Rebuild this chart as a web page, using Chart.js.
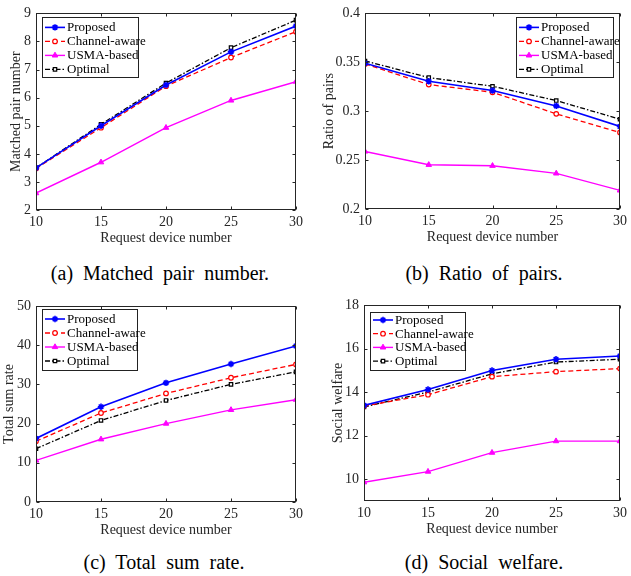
<!DOCTYPE html>
<html>
<head>
<meta charset="utf-8">
<script src="https://cdn.jsdelivr.net/npm/chart.js@4.4.1/dist/chart.umd.min.js"></script>
<style>
  html, body { margin:0; padding:0; background:#fff; }
  body { width:631px; height:576px; position:relative; overflow:hidden; font-family:"Liberation Serif", serif; }
  .panel { position:absolute; }
  .cap { position:absolute; font-family:"Liberation Serif", serif; font-size:20px; word-spacing:5px; color:#000; white-space:pre; transform:translate(-50%,-50%); }
</style>
</head>
<body>
<div class="panel" style="left:0;top:0;width:316px;height:250px"><canvas id="ca"></canvas></div>
<div class="panel" style="left:316px;top:0;width:315px;height:249px"><canvas id="cb"></canvas></div>
<div class="panel" style="left:0;top:290px;width:316px;height:252px"><canvas id="cc"></canvas></div>
<div class="panel" style="left:316px;top:290px;width:315px;height:251px"><canvas id="cd"></canvas></div>
<div class="cap" style="left:160px;top:273px">(a) Matched pair number.</div>
<div class="cap" style="left:484px;top:273px">(b) Ratio of pairs.</div>
<div class="cap" style="left:164px;top:562px">(c) Total sum rate.</div>
<div class="cap" style="left:484px;top:562px">(d) Social welfare.</div>
<script>
// ---- data ----
const categories = [10, 15, 20, 25, 30];
const seriesNames = ["Proposed", "Channel-aware", "USMA-based", "Optimal"];

const proposedPairs = [3.5, 5.0, 6.45, 7.63, 8.55];
const channelPairs  = [3.48, 4.93, 6.41, 7.43, 8.35];
const usmaPairs     = [2.6, 3.7, 4.93, 5.9, 6.57];
const optimalPairs  = [3.5, 5.05, 6.52, 7.78, 8.76];

const proposedRatio = [0.349, 0.3306, 0.3211, 0.3054, 0.2844];
const channelRatio  = [0.3483, 0.3272, 0.3194, 0.2973, 0.2782];
const usmaRatio     = [0.2588, 0.2452, 0.2442, 0.2364, 0.219];
const optimalRatio  = [0.3514, 0.3344, 0.3255, 0.3109, 0.2918];

const proposedRate = [16.2, 24.3, 30.4, 35.2, 39.8];
const channelRate  = [15.5, 22.7, 27.7, 31.7, 35.1];
const usmaRate     = [10.6, 16.0, 20.0, 23.5, 26.1];
const optimalRate  = [13.6, 20.8, 25.9, 30.0, 33.2];

const proposedWelfare = [13.39, 14.12, 14.99, 15.51, 15.66];
const channelWelfare  = [13.36, 13.88, 14.71, 14.94, 15.08];
const usmaWelfare     = [9.86, 10.35, 11.22, 11.75, 11.75];
const optimalWelfare  = [13.32, 14.0, 14.84, 15.38, 15.51];

const xTicks  = [10, 15, 20, 25, 30];
const yTicksA = [2, 3, 4, 5, 6, 7, 8, 9];
const yTicksB = [0.2, 0.25, 0.3, 0.35, 0.4];
const yTicksC = [0, 10, 20, 30, 40, 50];
const yTicksD = [10, 12, 14, 16, 18];

// ---- styles ----
const TXT = '#262626';
const styles = [
  { borderColor:'#0000ff', backgroundColor:'#0000ff', pointStyle:'star', pointRadius:3.2, borderDash:[], borderWidth:1.6, pointBorderWidth:1.6, pointBackgroundColor:'#0000ff' },
  { borderColor:'#ff0000', backgroundColor:'#ffffff', pointStyle:'circle', pointRadius:2.3, borderDash:[5,3], borderWidth:1.3, pointBorderWidth:1.2, pointBackgroundColor:'#ffffff' },
  { borderColor:'#ff00ff', backgroundColor:'#ff00ff', pointStyle:'triangle', pointRadius:3.2, borderDash:[], borderWidth:1.4, pointBorderWidth:1, pointBackgroundColor:'#ff00ff' },
  { borderColor:'#000000', backgroundColor:'#ffffff', pointStyle:'rect', pointRadius:2.4, borderDash:[5,2,1.5,2], borderWidth:1.3, pointBorderWidth:1.2, pointBackgroundColor:'#ffffff' }
];

function makeDatasets(arrs) {
  return arrs.map((vals, i) => Object.assign({
    label: seriesNames[i],
    data: categories.map((c, j) => ({ x: c, y: vals[j] })),
    fill: false,
    tension: 0,
    pointBorderColor: styles[i].borderColor,
    pointHoverRadius: styles[i].pointRadius
  }, styles[i]));
}

// frame + inward ticks + legend
const framePlugin = {
  id: 'frame',
  afterDraw(chart, args, opts) {
    const ctx = chart.ctx, a = chart.chartArea;
    const xs = chart.scales.x, ys = chart.scales.y;
    ctx.save();
    // legend
    const lg = opts.legend;
    const bw = lg.w, bh = lg.h;
    const bx = lg.side === 'left' ? a.left + lg.dx : a.right - lg.dx - bw;
    const by = a.top + lg.dy;
    ctx.fillStyle = '#fff';
    ctx.fillRect(bx, by, bw, bh);
    ctx.lineWidth = 1;
    ctx.strokeStyle = '#222';
    ctx.strokeRect(Math.round(bx) + 0.5, Math.round(by) + 0.5, bw, bh);
    chart.data.datasets.forEach((ds, i) => {
      const yy = by + lg.first + i * lg.step;
      ctx.save();
      ctx.strokeStyle = ds.borderColor;
      ctx.lineWidth = ds.borderWidth;
      ctx.setLineDash(ds.borderDash || []);
      ctx.beginPath();
      ctx.moveTo(bx + 3, yy);
      ctx.lineTo(bx + 23, yy);
      ctx.stroke();
      ctx.setLineDash([]);
      ctx.fillStyle = ds.pointBackgroundColor;
      ctx.strokeStyle = ds.borderColor;
      ctx.lineWidth = ds.pointBorderWidth;
      Chart.helpers.drawPoint(ctx, { pointStyle: ds.pointStyle, radius: ds.pointRadius, borderWidth: ds.pointBorderWidth, rotation: 0 }, bx + 13, yy);
      ctx.restore();
      ctx.fillStyle = '#000';
      ctx.font = '13px "Liberation Serif"';
      ctx.textBaseline = 'middle';
      ctx.textAlign = 'left';
      ctx.fillText(ds.label, bx + 25, yy + 0.5);
    });
    // box
    ctx.strokeStyle = '#262626';
    ctx.lineWidth = 1;
    const L = Math.round(a.left) + 0.5, R = Math.round(a.right) - 0.5, T = Math.round(a.top) + 0.5, B = Math.round(a.bottom) - 0.5;
    ctx.strokeRect(L, T, R - L, B - T);
    // ticks
    const tl = 3;
    ctx.beginPath();
    xs.ticks.forEach(t => {
      const px = Math.round(xs.getPixelForValue(t.value)) + 0.5;
      ctx.moveTo(px, B); ctx.lineTo(px, B - tl);
      ctx.moveTo(px, T); ctx.lineTo(px, T + tl);
    });
    ys.ticks.forEach(t => {
      const py = Math.round(ys.getPixelForValue(t.value)) + 0.5;
      ctx.moveTo(L, py); ctx.lineTo(L + tl, py);
      ctx.moveTo(R, py); ctx.lineTo(R - tl, py);
    });
    ctx.stroke();
    ctx.restore();
  }
};

const fmt = v => String(Math.round(v * 1000) / 1000);

function makeChart(id, arrs, cfg) {
  new Chart(document.getElementById(id), {
    type: 'line',
    data: { datasets: makeDatasets(arrs) },
    plugins: [framePlugin],
    options: {
      responsive: true,
      maintainAspectRatio: false,
      animation: false,
      events: [],
      layout: { padding: { left: 0, top: cfg.top, right: cfg.right, bottom: 0 } },
      plugins: {
        legend: { display: false },
        tooltip: { enabled: false },
        frame: { legend: cfg.legend }
      },
      scales: {
        x: {
          type: 'linear', min: 10, max: 30,
          afterBuildTicks: s => { s.ticks = xTicks.map(v => ({ value: v })); },
          afterFit: s => { s.height = 40; },
          grid: { display: false, drawTicks: false },
          border: { display: false },
          ticks: { padding: 4, color: TXT, font: { family: 'Liberation Serif', size: 14 }, maxRotation: 0, callback: fmt },
          title: { display: true, text: 'Request device number', color: TXT, font: { family: 'Liberation Serif', size: 14 }, padding: { top: 0, bottom: 3.6 } }
        },
        y: {
          type: 'linear', min: cfg.ymin, max: cfg.ymax,
          afterBuildTicks: s => { s.ticks = cfg.yticks.map(v => ({ value: v })); },
          afterFit: s => { s.width = cfg.yw; },
          grid: { display: false, drawTicks: false },
          border: { display: false },
          ticks: { padding: 5, color: TXT, font: { family: 'Liberation Serif', size: 14 }, callback: fmt },
          title: { display: true, text: cfg.ytitle, color: TXT, font: { family: 'Liberation Serif', size: 14 }, padding: { top: cfg.ytp, bottom: 0 } }
        }
      }
    }
  });
}

makeChart('ca', [proposedPairs, channelPairs, usmaPairs, optimalPairs], {
  top: 13, right: 20, yw: 36, ytp: 7.6, ymin: 2, ymax: 9, yticks: yTicksA, ytitle: 'Matched pair number',
  legend: { side: 'left', dx: 6, dy: 4, w: 96, h: 60, first: 10, step: 14 }
});
makeChart('cb', [proposedRatio, channelRatio, usmaRatio, optimalRatio], {
  top: 13, right: 7, yw: 49, ytp: 4.6, ymin: 0.2, ymax: 0.4, yticks: yTicksB, ytitle: 'Ratio of pairs',
  legend: { side: 'right', dx: 7, dy: 4, w: 97, h: 60, first: 10, step: 14 }
});
makeChart('cc', [proposedRate, channelRate, usmaRate, optimalRate], {
  top: 16, right: 20, yw: 36, ytp: 1, ymin: 0, ymax: 50, yticks: yTicksC, ytitle: 'Total sum rate',
  legend: { side: 'left', dx: 6, dy: 3, w: 95, h: 61, first: 10, step: 14 }
});
makeChart('cd', [proposedWelfare, channelWelfare, usmaWelfare, optimalWelfare], {
  top: 15, right: 7, yw: 48, ytp: 13.6, ymin: 9, ymax: 18, yticks: yTicksD, ytitle: 'Social welfare',
  legend: { side: 'left', dx: 6, dy: 7, w: 95, h: 58, first: 8, step: 13.7 }
});
</script>
</body>
</html>
